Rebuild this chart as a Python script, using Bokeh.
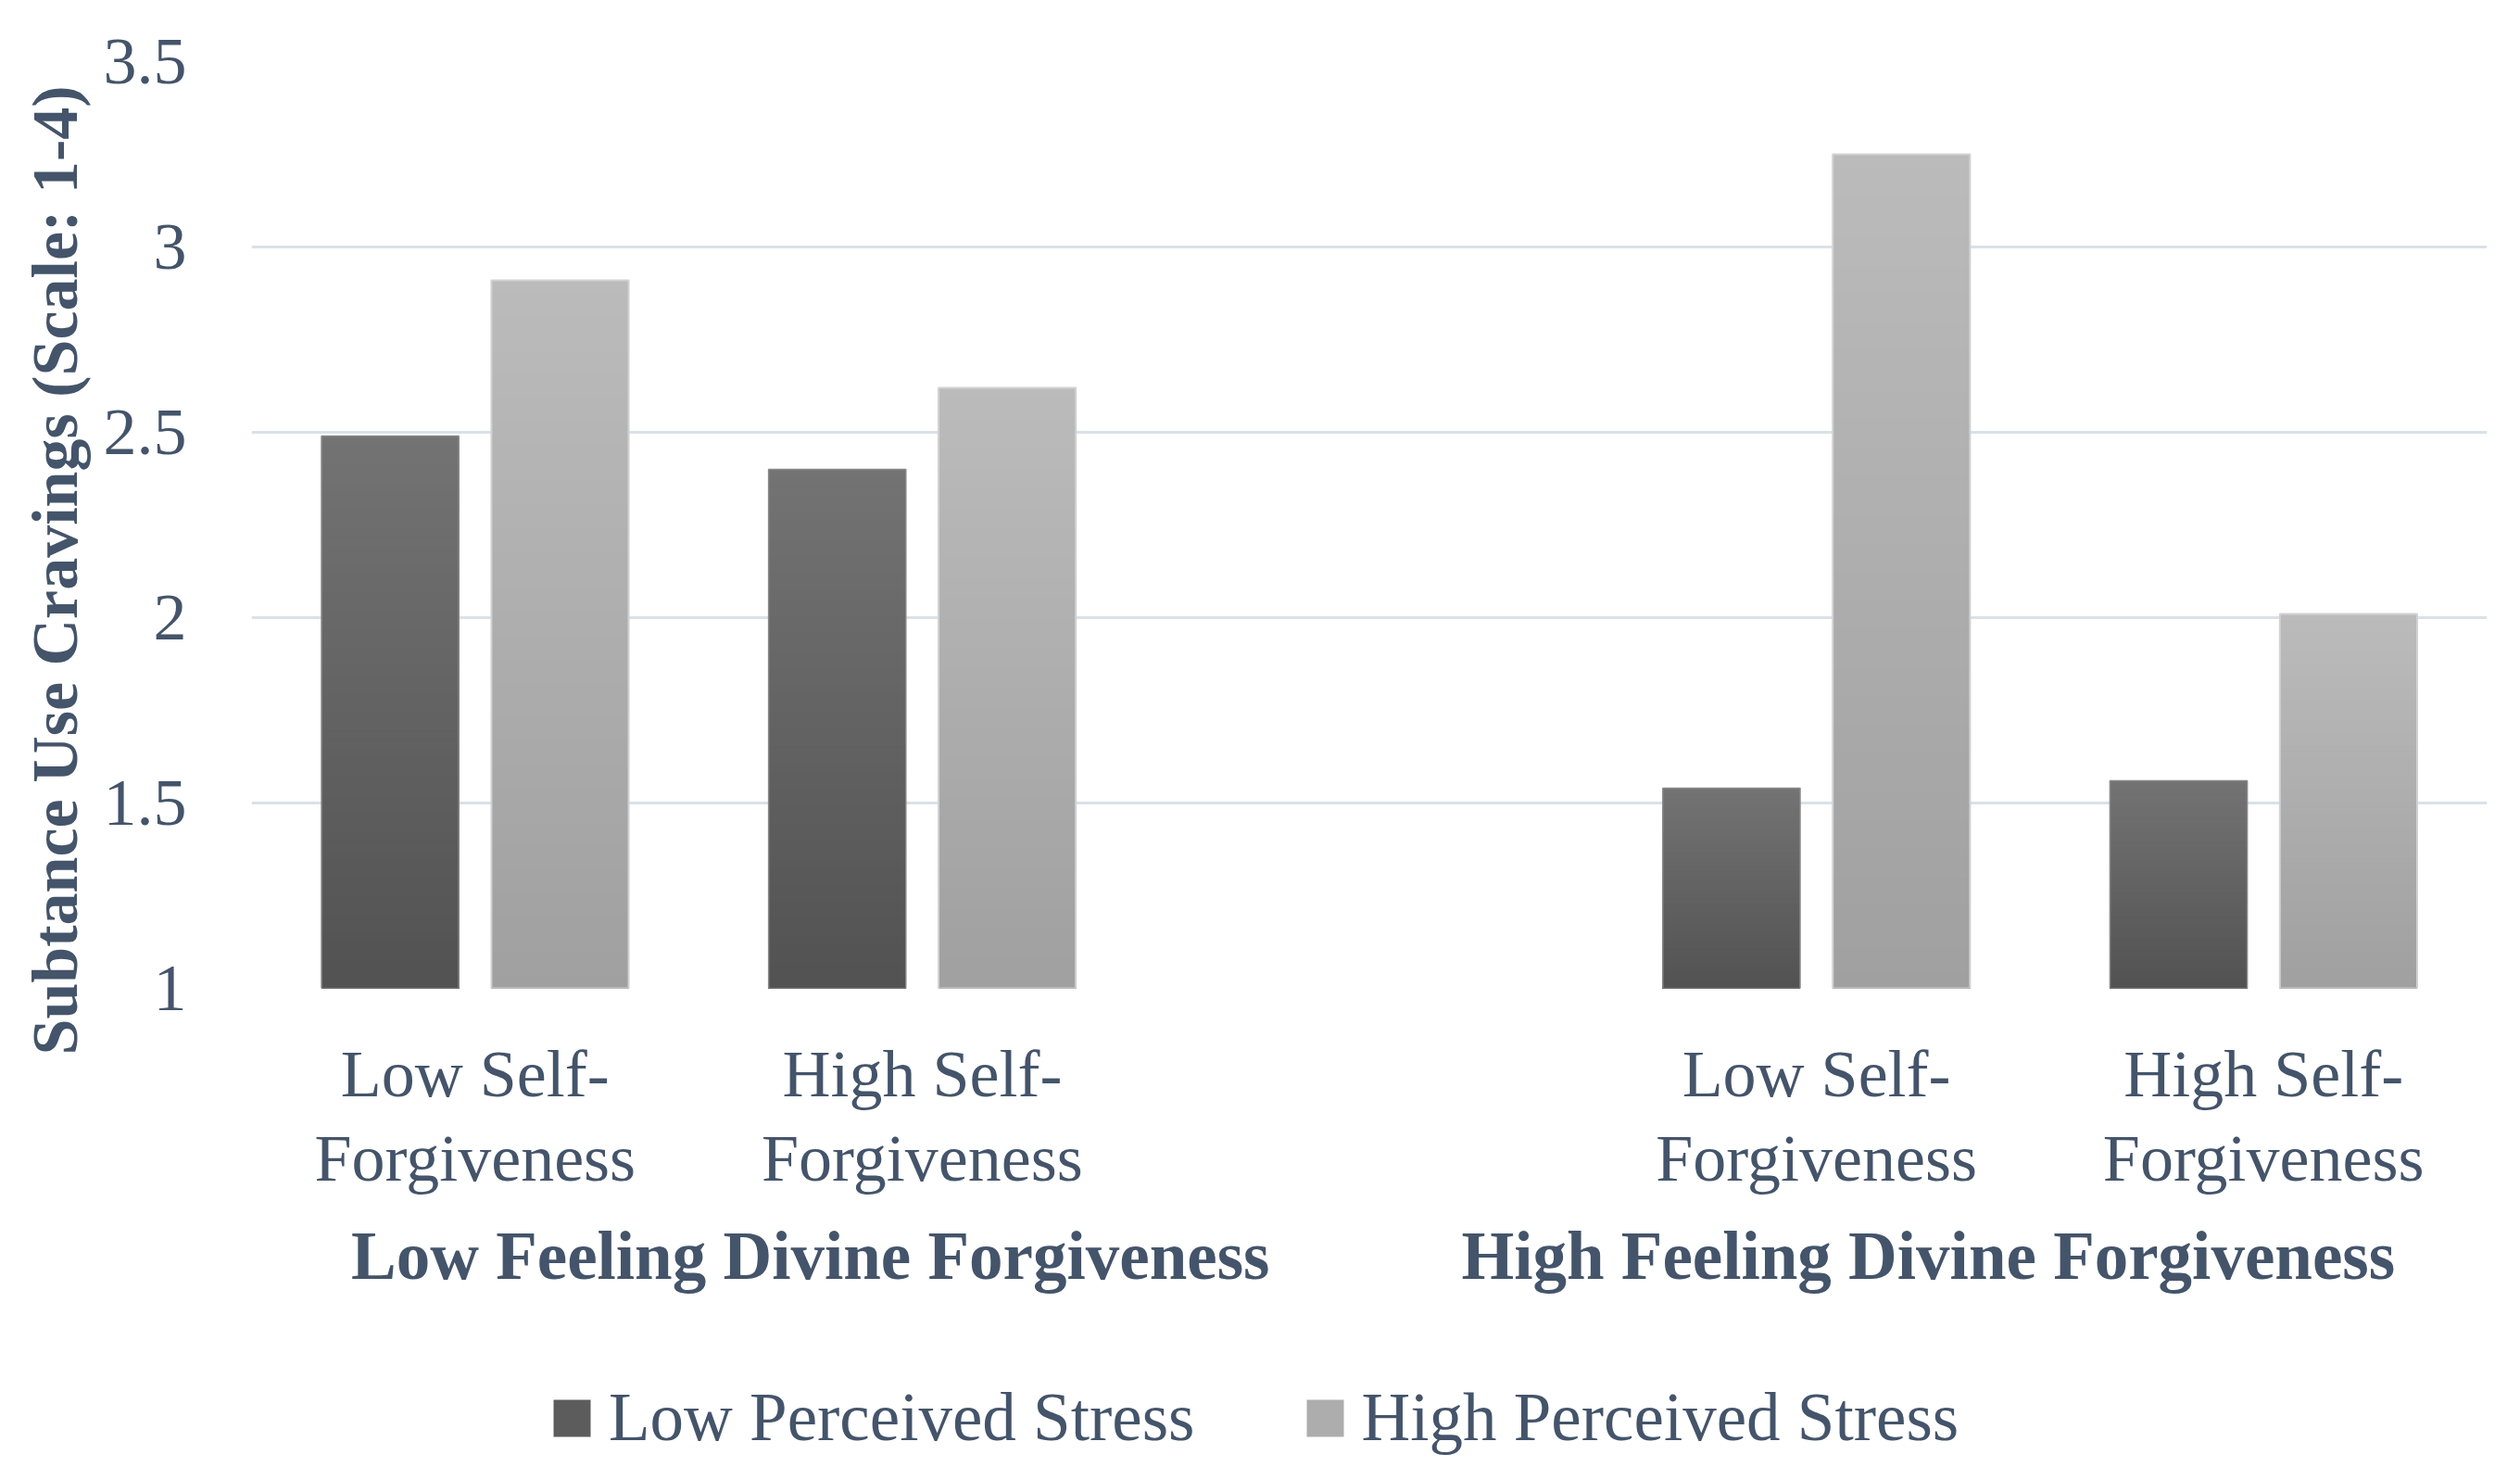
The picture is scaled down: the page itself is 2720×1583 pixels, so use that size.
from bokeh.plotting import figure
from bokeh.layouts import column
from bokeh.models import Range1d, FixedTicker, LinearAxis, Legend, LegendItem, Title, ColumnDataSource
from bokeh.embed import file_html
from bokeh.resources import INLINE

# ---- data ----
categories = ["Low Self-\nForgiveness", "High Self-\nForgiveness",
              "Low Self-\nForgiveness", "High Self-\nForgiveness"]
groups = ["Low Feeling Divine Forgiveness", "High Feeling Divine Forgiveness"]
series = ["Low Perceived Stress", "High Perceived Stress"]
low_stress = [2.49, 2.40, 1.54, 1.56]
high_stress = [2.91, 2.62, 3.25, 2.01]
y_ticks = [1, 1.5, 2, 2.5, 3, 3.5]
y_tick_labels = ["1", "1.5", "2", "2.5", "3", "3.5"]
y_title = "Subtance Use Cravings (Scale: 1-4)"

# slot layout: 5 slots, the middle one left empty as spacer
cat_pos = [0.5, 1.5, 3.5, 4.5]
group_pos = [1.25, 3.75]

TEXT = "#44546A"
FONT = "Liberation Serif"
FS = "72px"
BAR_W = 0.307
OFF = 0.19
BASE = 1.0
W = 2704


def mix(c1, c2, f):
    a = [int(c1[i:i + 2], 16) for i in (1, 3, 5)]
    b = [int(c2[i:i + 2], 16) for i in (1, 3, 5)]
    return "#%02x%02x%02x" % tuple(round(a[i] + (b[i] - a[i]) * f) for i in range(3))


def gradient_source(centers, values, c_bot, c_top, n=60):
    d = dict(left=[], right=[], top=[], bottom=[], color=[])
    for k in range(n, 0, -1):
        f = k / n
        col = mix(c_bot, c_top, (k - 0.5) / n)
        for x, v in zip(centers, values):
            d["left"].append(x - BAR_W / 2)
            d["right"].append(x + BAR_W / 2)
            d["bottom"].append(BASE)
            d["top"].append(BASE + (v - BASE) * f)
            d["color"].append(col)
    return ColumnDataSource(d)


p = figure(width=W, height=1460, x_range=Range1d(0, 5), y_range=Range1d(1, 3.5),
           output_backend="svg", toolbar_location=None,
           min_border_left=271, min_border_right=20, min_border_top=66, min_border_bottom=394)
p.outline_line_color = None
p.background_fill_color = "white"
p.xgrid.grid_line_color = None
p.ygrid.grid_line_color = "#D9E1E9"
p.ygrid.grid_line_width = 3
p.ygrid.ticker = FixedTicker(ticks=y_ticks)

dark_x = [c - OFF for c in cat_pos]
light_x = [c + OFF for c in cat_pos]

p.quad(left="left", right="right", top="top", bottom="bottom", fill_color="color",
       line_color=None, source=gradient_source(dark_x, low_stress, "#525252", "#737373"))
p.quad(left="left", right="right", top="top", bottom="bottom", fill_color="color",
       line_color=None, source=gradient_source(light_x, high_stress, "#a0a0a0", "#bbbbbb"))
# outlines
p.quad(left=[x - BAR_W / 2 for x in dark_x], right=[x + BAR_W / 2 for x in dark_x],
       top=low_stress, bottom=[BASE] * 4, fill_color=None, line_color="#888888", line_width=1.5)
p.quad(left=[x - BAR_W / 2 for x in light_x], right=[x + BAR_W / 2 for x in light_x],
       top=high_stress, bottom=[BASE] * 4, fill_color=None, line_color="#d2d2d2", line_width=2)

# y axis
ya = p.yaxis[0]
ya.ticker = FixedTicker(ticks=y_ticks)
ya.major_label_overrides = dict(zip(y_ticks, y_tick_labels))
ya.axis_line_color = None
ya.major_tick_line_color = None
ya.minor_tick_line_color = None
ya.major_tick_out = 0
ya.major_label_standoff = 70
ya.major_label_text_font = FONT
ya.major_label_text_font_size = FS
ya.major_label_text_color = TEXT

# x axis (sub-categories)
xa = p.xaxis[0]
xa.ticker = FixedTicker(ticks=cat_pos)
xa.major_label_overrides = dict(zip(cat_pos, categories))
xa.axis_line_color = None
xa.major_tick_line_color = None
xa.minor_tick_line_color = None
xa.major_tick_out = 0
xa.major_label_standoff = 52
xa.major_label_text_font = FONT
xa.major_label_text_font_size = FS
xa.major_label_text_color = TEXT
xa.major_label_text_line_height = 1.14

# group axis
ga = LinearAxis(ticker=FixedTicker(ticks=group_pos),
                major_label_overrides=dict(zip(group_pos, groups)))
ga.axis_line_color = None
ga.major_tick_line_color = None
ga.minor_tick_line_color = None
ga.major_tick_out = 0
ga.major_label_standoff = 22
ga.major_label_text_font = FONT
ga.major_label_text_font_style = "bold"
ga.major_label_text_font_size = "73px"
ga.major_label_text_color = TEXT
p.add_layout(ga, "below")

# y title
t = Title(text=y_title, align="left", offset=-72, vertical_align="middle", standoff=20,
          text_font=FONT, text_font_style="bold", text_font_size="70px", text_color=TEXT)
p.add_layout(t, "left")

# ---- legend strip ----
lg = figure(width=W, height=112, x_range=Range1d(0, 1), y_range=Range1d(0, 1),
            output_backend="svg", toolbar_location=None,
            x_axis_type=None, y_axis_type=None,
            min_border_left=0, min_border_right=0, min_border_top=0, min_border_bottom=0)
lg.outline_line_color = None
lg.grid.visible = False
# zero-area proxies: only used to draw the legend swatches
r_dark = lg.quad(left=[0], right=[0], top=[0], bottom=[0], fill_color="#5c5c5c", line_color=None)
r_light = lg.quad(left=[0], right=[0], top=[0], bottom=[0], fill_color="#adadad", line_color=None)

legend = Legend(items=[LegendItem(label=series[0], renderers=[r_dark]),
                       LegendItem(label=series[1], renderers=[r_light])],
                location=(321, 0), orientation="horizontal",
                glyph_width=50, glyph_height=50, label_standoff=15, spacing=115,
                padding=0, margin=0, border_line_color=None, background_fill_alpha=0,
                label_text_font=FONT, label_text_font_size="73px", label_text_color=TEXT)
lg.add_layout(legend, "center")

layout = column(p, lg)
open("out.html", "w").write(file_html(layout, INLINE))
